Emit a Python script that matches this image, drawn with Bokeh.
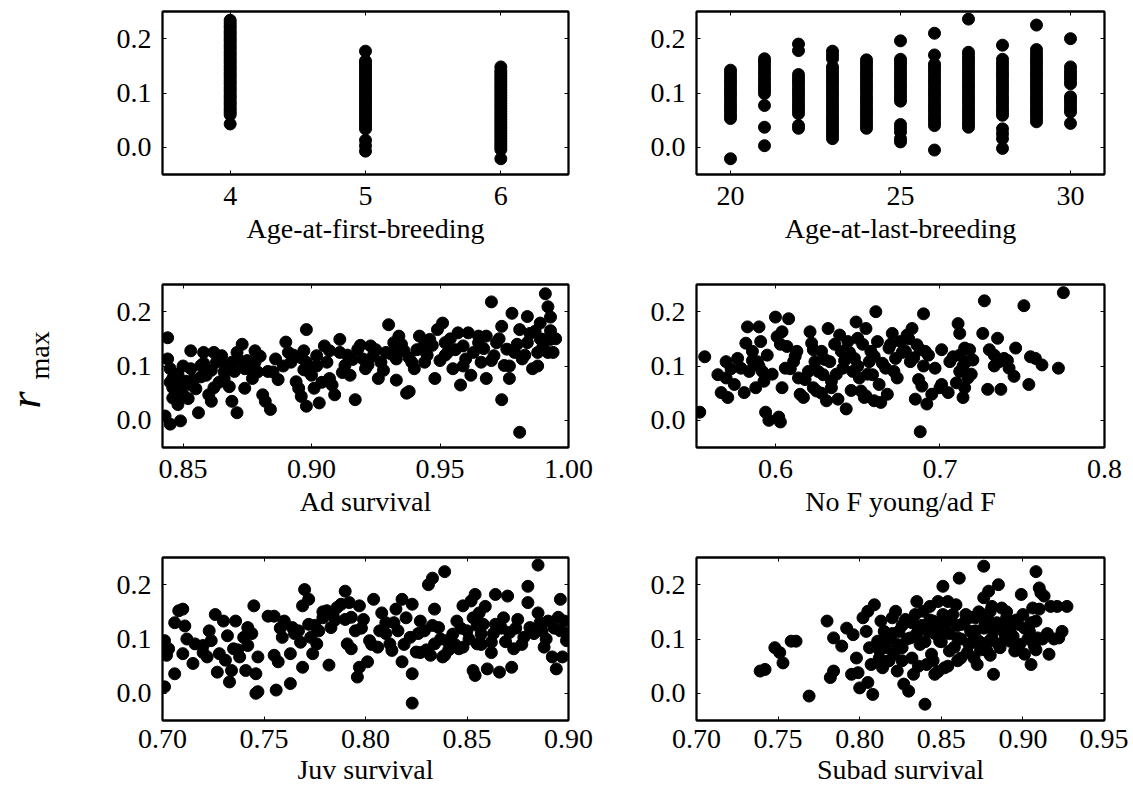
import math
from bokeh.plotting import figure
from bokeh.layouts import row, column
from bokeh.models import Range1d, FixedTicker, PrintfTickFormatter, LinearAxis, CustomJSTickFormatter
from bokeh.core.properties import value
from bokeh.embed import file_html
from bokeh.resources import INLINE

# ---------------- data ----------------
# r_max vs age-at-first-breeding (categories 4, 5, 6)
afb_cats = [4, 5, 6]
afb_y4 = [0.043, 0.060, 0.064, 0.068, 0.072, 0.077, 0.081, 0.085, 0.090, 0.094, 0.098, 0.103,
          0.107, 0.111, 0.116, 0.120, 0.124, 0.129, 0.133, 0.137, 0.142, 0.146, 0.150, 0.155,
          0.159, 0.163, 0.168, 0.172, 0.176, 0.181, 0.185, 0.189, 0.194, 0.198, 0.202, 0.207,
          0.211, 0.215, 0.220, 0.224, 0.229, 0.234]
afb_y5 = [-0.007, 0.003, 0.013, 0.034, 0.039, 0.044, 0.049, 0.054, 0.059, 0.064, 0.069, 0.074,
          0.079, 0.084, 0.089, 0.094, 0.099, 0.104, 0.109, 0.114, 0.119, 0.124, 0.129, 0.134,
          0.139, 0.144, 0.149, 0.154, 0.159, 0.177]
afb_y6 = [-0.021, -0.004, 0.001, 0.006, 0.011, 0.016, 0.021, 0.026, 0.031, 0.036, 0.041, 0.046,
          0.051, 0.056, 0.061, 0.066, 0.071, 0.076, 0.081, 0.086, 0.091, 0.096, 0.101, 0.106,
          0.111, 0.116, 0.121, 0.126, 0.131, 0.136, 0.141, 0.148]

# r_max vs age-at-last-breeding (categories 20..30)
alb_cats = [20, 21, 22, 23, 24, 25, 26, 27, 28, 29, 30]
alb_vals = [
    [-0.021, 0.053, 0.058, 0.064, 0.070, 0.076, 0.082, 0.088, 0.094, 0.100, 0.106, 0.112, 0.118, 0.124, 0.130, 0.136, 0.142],
    [0.003, 0.037, 0.077, 0.099, 0.105, 0.111, 0.117, 0.124, 0.130, 0.137, 0.143, 0.150, 0.157, 0.163],
    [0.035, 0.040, 0.062, 0.068, 0.074, 0.080, 0.086, 0.092, 0.098, 0.104, 0.110, 0.116, 0.122, 0.128, 0.134, 0.178, 0.190],
    [0.016, 0.022, 0.028, 0.034, 0.040, 0.046, 0.052, 0.058, 0.064, 0.070, 0.076, 0.082, 0.088, 0.094, 0.100, 0.106,
     0.112, 0.118, 0.124, 0.130, 0.136, 0.142, 0.148, 0.163, 0.170, 0.177],
    [0.035, 0.041, 0.047, 0.053, 0.059, 0.065, 0.071, 0.077, 0.083, 0.089, 0.095, 0.101, 0.107, 0.113, 0.119, 0.125,
     0.131, 0.137, 0.143, 0.149, 0.155, 0.161],
    [0.010, 0.016, 0.028, 0.035, 0.042, 0.085, 0.091, 0.097, 0.103, 0.109, 0.115, 0.121, 0.127, 0.133, 0.139, 0.145,
     0.151, 0.157, 0.162, 0.196],
    [-0.005, 0.040, 0.046, 0.052, 0.058, 0.064, 0.070, 0.076, 0.082, 0.088, 0.094, 0.100, 0.106, 0.112, 0.118, 0.124,
     0.130, 0.136, 0.142, 0.148, 0.153, 0.170, 0.210],
    [0.037, 0.043, 0.049, 0.055, 0.061, 0.067, 0.073, 0.079, 0.085, 0.091, 0.097, 0.103, 0.109, 0.115, 0.121, 0.127,
     0.133, 0.139, 0.145, 0.151, 0.157, 0.163, 0.169, 0.175, 0.236],
    [-0.002, 0.016, 0.025, 0.034, 0.059, 0.065, 0.071, 0.077, 0.083, 0.089, 0.095, 0.101, 0.107, 0.113, 0.119, 0.125,
     0.131, 0.137, 0.143, 0.149, 0.155, 0.162, 0.188],
    [0.047, 0.053, 0.059, 0.065, 0.071, 0.077, 0.083, 0.089, 0.095, 0.101, 0.107, 0.113, 0.119, 0.125, 0.131, 0.137,
     0.143, 0.149, 0.155, 0.161, 0.167, 0.173, 0.180, 0.225],
    [0.044, 0.065, 0.071, 0.077, 0.083, 0.089, 0.093, 0.117, 0.123, 0.129, 0.135, 0.141, 0.148, 0.200],
]

# r_max vs adult survival
ad_x = [0.844, 0.844, 0.843, 0.845, 0.849, 0.845, 0.846, 0.847, 0.849, 0.846, 0.848, 0.850, 0.853, 0.853, 0.853,
        0.856, 0.857, 0.858, 0.859, 0.860, 0.861, 0.862, 0.863, 0.865, 0.866, 0.866, 0.869, 0.871, 0.869, 0.871,
        0.873, 0.874, 0.874, 0.877, 0.878, 0.878, 0.879, 0.881, 0.882, 0.884, 0.886, 0.885, 0.890, 0.892, 0.894,
        0.895, 0.896, 0.898, 0.897, 0.898, 0.899, 0.898, 0.900, 0.901, 0.903, 0.902, 0.905, 0.906, 0.907, 0.908,
        0.909, 0.911, 0.911, 0.913, 0.915, 0.917, 0.918, 0.920, 0.921, 0.923, 0.924, 0.926, 0.927, 0.930, 0.929,
        0.932, 0.933, 0.933, 0.934, 0.936, 0.937, 0.938, 0.939, 0.940, 0.942, 0.943, 0.944, 0.946, 0.948, 0.949,
        0.951, 0.952, 0.953, 0.955, 0.957, 0.958, 0.959, 0.960, 0.961, 0.962, 0.965, 0.966, 0.968, 0.968, 0.970,
        0.971, 0.972, 0.974, 0.974, 0.975, 0.976, 0.977, 0.978, 0.979, 0.981, 0.981, 0.982, 0.984, 0.984, 0.986,
        0.987, 0.988, 0.989, 0.990, 0.991, 0.992, 0.992, 0.993,
        0.846, 0.848, 0.851, 0.852, 0.855, 0.857, 0.861, 0.864, 0.867, 0.868, 0.872, 0.876, 0.880, 0.883, 0.887,
        0.893, 0.897, 0.902, 0.904, 0.907, 0.912, 0.916, 0.919, 0.922, 0.925, 0.928, 0.931, 0.935, 0.938, 0.941,
        0.945, 0.947, 0.950, 0.954, 0.956, 0.959, 0.963, 0.965, 0.967, 0.970, 0.973, 0.977, 0.980, 0.983, 0.985,
        0.988, 0.990, 0.993, 0.994, 0.995, 0.993, 0.989,
        0.845, 0.847, 0.850, 0.854, 0.858, 0.862, 0.870, 0.875, 0.889, 0.891, 0.896, 0.914, 0.934, 0.944, 0.952]
ad_y = [0.152, 0.113, 0.008, -0.007, -0.001, 0.095, 0.077, 0.065, 0.056, 0.041, 0.029, 0.047, 0.065, 0.128, 0.095,
        0.014, 0.101, 0.125, 0.083, 0.047, 0.035, 0.125, 0.107, 0.119, 0.089, 0.077, 0.035, 0.014, 0.107, 0.125,
        0.140, 0.059, 0.095, 0.077, 0.128, 0.107, 0.089, 0.047, 0.035, 0.020, 0.113, 0.089, 0.144, 0.107, 0.071,
        0.059, 0.044, 0.167, 0.128, 0.107, 0.089, 0.026, 0.083, 0.059, 0.032, 0.119, 0.137, 0.107, 0.077, 0.065,
        0.047, 0.149, 0.125, 0.101, 0.083, 0.038, 0.131, 0.113, 0.095, 0.137, 0.119, 0.077, 0.107, 0.176, 0.125,
        0.143, 0.113, 0.074, 0.155, 0.128, 0.050, 0.053, 0.107, 0.095, 0.155, 0.131, 0.107, 0.149, 0.077, 0.167,
        0.179, 0.143, 0.125, 0.095, 0.161, 0.065, 0.137, 0.113, 0.161, 0.083, 0.143, 0.107, 0.155, 0.077, 0.218,
        0.119, 0.143, 0.038, 0.173, 0.101, 0.131, 0.077, 0.197, 0.125, -0.022, 0.167, 0.113, 0.191, 0.143, 0.095,
        0.164, 0.125, 0.179, 0.149, 0.233, 0.209, 0.125, 0.149,
        0.060, 0.085, 0.072, 0.040, 0.058, 0.080, 0.092, 0.070, 0.100, 0.062, 0.110, 0.095, 0.118, 0.090, 0.075,
        0.120, 0.093, 0.100, 0.070, 0.128, 0.088, 0.112, 0.138, 0.102, 0.130, 0.092, 0.122, 0.140, 0.115, 0.130,
        0.120, 0.138, 0.110, 0.150, 0.130, 0.100, 0.125, 0.155, 0.132, 0.110, 0.150, 0.100, 0.140, 0.120, 0.160,
        0.100, 0.135, 0.165, 0.125, 0.150, 0.190, 0.150,
        0.070, 0.050, 0.100, 0.075, 0.105, 0.060, 0.090, 0.110, 0.100, 0.125, 0.115, 0.120, 0.130, 0.140, 0.120]

# r_max vs number of female young per adult female
fy_x = [0.554, 0.557, 0.565, 0.567, 0.570, 0.570, 0.571, 0.575, 0.577, 0.579, 0.581, 0.582, 0.583, 0.584, 0.586,
        0.588, 0.589, 0.590, 0.591, 0.592, 0.593, 0.594, 0.596, 0.600, 0.601, 0.602, 0.603, 0.604, 0.604, 0.606,
        0.607, 0.608, 0.611, 0.613, 0.614, 0.615, 0.617, 0.620, 0.621, 0.622, 0.623, 0.624, 0.625, 0.628, 0.629,
        0.631, 0.632, 0.633, 0.634, 0.638, 0.639, 0.640, 0.641, 0.643, 0.644, 0.647, 0.648, 0.649, 0.650, 0.651,
        0.652, 0.654, 0.655, 0.657, 0.658, 0.659, 0.660, 0.661, 0.662, 0.663, 0.664, 0.667, 0.668, 0.669, 0.671,
        0.673, 0.674, 0.676, 0.679, 0.680, 0.682, 0.683, 0.685, 0.686, 0.687, 0.688, 0.689, 0.690, 0.691, 0.692,
        0.695, 0.697, 0.701, 0.701, 0.705, 0.706, 0.708, 0.710, 0.711, 0.712, 0.712, 0.714, 0.715, 0.716, 0.717,
        0.718, 0.720, 0.726, 0.727, 0.729, 0.730, 0.733, 0.735, 0.736, 0.737, 0.739, 0.742, 0.745, 0.746, 0.751,
        0.754, 0.755, 0.758, 0.762, 0.772, 0.775,
        0.590, 0.595, 0.598, 0.603, 0.609, 0.612, 0.618, 0.623, 0.626, 0.630, 0.636, 0.637, 0.642, 0.645, 0.650,
        0.653, 0.656, 0.660, 0.665, 0.670, 0.672, 0.677, 0.681, 0.684, 0.688, 0.690, 0.693, 0.712, 0.714, 0.719,
        0.733, 0.741, 0.573, 0.586, 0.634, 0.646, 0.655, 0.628, 0.700, 0.715]
fy_y = [0.015, 0.117, 0.084, 0.051, 0.108, 0.078, 0.042, 0.066, 0.114, 0.096, 0.051, 0.142, 0.172, 0.090, 0.127,
        0.060, 0.108, 0.172, 0.145, 0.090, 0.072, 0.015, 0.000, 0.190, 0.154, 0.006, -0.003, 0.163, 0.060, 0.096,
        0.136, 0.187, 0.108, 0.127, 0.078, 0.048, 0.042, 0.090, 0.163, 0.142, 0.060, 0.108, 0.054, 0.127, 0.084,
        0.036, 0.169, 0.108, 0.072, 0.039, 0.157, 0.127, 0.096, 0.021, 0.145, 0.090, 0.114, 0.181, 0.151, 0.078,
        0.054, 0.042, 0.169, 0.108, 0.127, 0.084, 0.036, 0.200, 0.145, 0.066, 0.033, 0.096, 0.048, 0.133, 0.160,
        0.114, 0.078, 0.145, 0.127, 0.157, 0.108, 0.169, 0.039, 0.139, 0.075, -0.021, 0.063, 0.196, 0.127, 0.030,
        0.048, 0.096, 0.130, 0.066, 0.051, 0.108, 0.117, 0.069, 0.178, 0.160, 0.090, 0.042, 0.133, 0.108, 0.078,
        0.130, 0.111, 0.160, 0.220, 0.057, 0.130, 0.120, 0.151, 0.108, 0.057, 0.114, 0.096, 0.081, 0.133, 0.211,
        0.066, 0.117, 0.114, 0.102, 0.096, 0.235,
        0.100, 0.120, 0.085, 0.140, 0.095, 0.118, 0.075, 0.130, 0.090, 0.112, 0.140, 0.085, 0.110, 0.125, 0.100,
        0.140, 0.085, 0.118, 0.105, 0.140, 0.090, 0.125, 0.150, 0.115, 0.130, 0.100, 0.120, 0.120, 0.100, 0.085,
        0.100, 0.110, 0.095, 0.110, 0.060, 0.055, 0.045, 0.050, 0.060, 0.060]

# r_max vs juvenile survival
juv_x = [0.701, 0.701, 0.702, 0.703, 0.706, 0.706, 0.708, 0.710, 0.710, 0.711, 0.712, 0.715, 0.716, 0.720, 0.722,
         0.723, 0.724, 0.726, 0.727, 0.728, 0.730, 0.731, 0.732, 0.733, 0.734, 0.735, 0.736, 0.738, 0.740, 0.741,
         0.742, 0.742, 0.745, 0.746, 0.747, 0.747, 0.746, 0.752, 0.755, 0.755, 0.756, 0.757, 0.759, 0.760, 0.763,
         0.763, 0.764, 0.767, 0.768, 0.769, 0.769, 0.770, 0.772, 0.772, 0.773, 0.774, 0.776, 0.777, 0.779, 0.781,
         0.782, 0.783, 0.784, 0.786, 0.788, 0.790, 0.790, 0.791, 0.792, 0.793, 0.795, 0.796, 0.797, 0.797, 0.799,
         0.801, 0.802, 0.804, 0.806, 0.807, 0.808, 0.810, 0.812, 0.813, 0.815, 0.816, 0.818, 0.818, 0.820, 0.822,
         0.823, 0.823, 0.823, 0.825, 0.827, 0.829, 0.831, 0.832, 0.833, 0.834, 0.834, 0.836, 0.838, 0.839, 0.840,
         0.843, 0.845, 0.846, 0.848, 0.850, 0.852, 0.853, 0.853, 0.854, 0.854, 0.855, 0.856, 0.857, 0.858, 0.860,
         0.862, 0.864, 0.864, 0.866, 0.868, 0.870, 0.871, 0.872, 0.873, 0.875, 0.878, 0.880, 0.880, 0.881, 0.885,
         0.885, 0.887, 0.888, 0.890, 0.892, 0.894, 0.896, 0.896, 0.897, 0.898, 0.899,
         0.720, 0.737, 0.744, 0.758, 0.765, 0.775, 0.779, 0.785, 0.793, 0.798, 0.803, 0.810, 0.814, 0.819, 0.826,
         0.830, 0.833, 0.837, 0.841, 0.844, 0.847, 0.851, 0.855, 0.857, 0.859, 0.863, 0.867, 0.869, 0.874, 0.877,
         0.883, 0.886, 0.889, 0.893, 0.895, 0.899, 0.827, 0.839, 0.862, 0.848]
juv_y = [0.097, 0.012, 0.070, 0.082, 0.036, 0.130, 0.152, 0.155, 0.073, 0.124, 0.100, 0.055, 0.091, 0.088, 0.067,
         0.115, 0.097, 0.145, 0.039, 0.073, 0.133, 0.061, 0.106, 0.021, 0.042, 0.082, 0.133, 0.067, 0.103, 0.042,
         0.121, 0.088, 0.161, 0.000, 0.067, 0.003, 0.036, 0.142, 0.142, 0.070, 0.006, 0.058, 0.103, 0.133, 0.018,
         0.073, 0.121, 0.115, 0.094, 0.161, 0.048, 0.191, 0.173, 0.127, 0.103, 0.073, 0.091, 0.115, 0.139, 0.152,
         0.052, 0.121, 0.145, 0.158, 0.164, 0.188, 0.136, 0.091, 0.167, 0.082, 0.115, 0.030, 0.161, 0.048, 0.136,
         0.058, 0.097, 0.173, 0.085, 0.115, 0.148, 0.130, 0.091, 0.079, 0.155, 0.115, 0.058, 0.173, 0.139, 0.103,
         -0.018, 0.036, 0.164, 0.076, 0.133, 0.115, 0.200, 0.070, 0.212, 0.155, 0.091, 0.121, 0.067, 0.224, 0.097,
         0.109, 0.133, 0.082, 0.161, 0.115, 0.170, 0.139, 0.042, 0.033, 0.182, 0.091, 0.148, 0.109, 0.127, 0.045,
         0.094, 0.182, 0.127, 0.039, 0.139, 0.179, 0.112, 0.048, 0.082, 0.136, 0.103, 0.197, 0.167, 0.121, 0.236,
         0.148, 0.115, 0.085, 0.133, 0.067, 0.045, 0.173, 0.115, 0.067, 0.133, 0.097,
         0.075, 0.080, 0.110, 0.120, 0.110, 0.125, 0.150, 0.135, 0.140, 0.120, 0.090, 0.110, 0.130, 0.090, 0.110,
         0.080, 0.125, 0.100, 0.080, 0.090, 0.120, 0.100, 0.125, 0.090, 0.160, 0.110, 0.120, 0.095, 0.120, 0.090,
         0.110, 0.130, 0.100, 0.120, 0.140, 0.110, 0.075, 0.070, 0.075, 0.085]

# r_max vs subadult survival
sub_x = [0.739, 0.742, 0.748, 0.751, 0.753, 0.758, 0.761, 0.769, 0.780, 0.782, 0.784, 0.784, 0.789, 0.792, 0.795,
         0.796, 0.798, 0.799, 0.800, 0.802, 0.804, 0.805, 0.805, 0.806, 0.807, 0.808, 0.809, 0.811, 0.812, 0.813,
         0.814, 0.815, 0.816, 0.817, 0.818, 0.820, 0.821, 0.822, 0.823, 0.824, 0.826, 0.827, 0.828, 0.830, 0.831,
         0.832, 0.833, 0.834, 0.835, 0.836, 0.837, 0.839, 0.840, 0.841, 0.842, 0.843, 0.844, 0.845, 0.846, 0.848,
         0.849, 0.851, 0.851, 0.852, 0.853, 0.854, 0.855, 0.856, 0.859, 0.860, 0.861, 0.862, 0.863, 0.865, 0.867,
         0.868, 0.870, 0.871, 0.872, 0.873, 0.876, 0.876, 0.877, 0.878, 0.879, 0.880, 0.881, 0.882, 0.883, 0.885,
         0.886, 0.887, 0.888, 0.890, 0.892, 0.895, 0.897, 0.899, 0.900, 0.901, 0.904, 0.905, 0.906, 0.907, 0.908,
         0.908, 0.909, 0.910, 0.911, 0.913, 0.916, 0.917, 0.921, 0.922, 0.924, 0.927,
         0.820, 0.823, 0.826, 0.829, 0.832, 0.835, 0.838, 0.840, 0.843, 0.846, 0.848, 0.850, 0.852, 0.855, 0.857,
         0.858, 0.860, 0.862, 0.864, 0.866, 0.868, 0.869, 0.871, 0.873, 0.874, 0.876, 0.878, 0.879, 0.881, 0.882,
         0.884, 0.885, 0.887, 0.889, 0.890, 0.892, 0.894, 0.896, 0.898, 0.901, 0.903, 0.905, 0.908, 0.910, 0.912,
         0.915, 0.919, 0.812, 0.816, 0.818, 0.826, 0.836, 0.845, 0.854, 0.848, 0.860, 0.880]
sub_y = [0.041, 0.044, 0.084, 0.075, 0.056, 0.096, 0.096, -0.005, 0.133, 0.029, 0.102, 0.041, 0.087, 0.120, 0.035,
         0.108, 0.065, 0.038, 0.010, 0.139, 0.114, 0.151, 0.020, 0.084, 0.053, -0.002, 0.163, 0.096, 0.065, 0.133,
         0.047, 0.114, 0.084, 0.059, 0.102, 0.139, 0.072, 0.151, 0.041, 0.114, 0.084, 0.017, 0.136, 0.004, 0.102,
         0.065, 0.035, 0.145, 0.169, 0.120, 0.090, 0.151, -0.020, 0.053, 0.114, 0.160, 0.072, 0.133, 0.035, 0.169,
         0.096, 0.197, 0.145, 0.047, 0.114, 0.169, 0.078, 0.133, 0.163, 0.102, 0.212, 0.065, 0.127, 0.145, 0.090,
         0.114, 0.065, 0.139, 0.053, 0.096, 0.176, 0.234, 0.127, 0.078, 0.188, 0.151, 0.102, 0.035, 0.127, 0.200,
         0.084, 0.157, 0.114, 0.139, 0.096, 0.078, 0.127, 0.182, 0.145, 0.072, 0.114, 0.053, 0.157, 0.087, 0.224,
         0.133, 0.102, 0.194, 0.185, 0.179, 0.072, 0.160, 0.160, 0.102, 0.114, 0.160,
         0.110, 0.090, 0.125, 0.100, 0.130, 0.110, 0.125, 0.095, 0.135, 0.110, 0.125, 0.095, 0.130, 0.110, 0.145,
         0.085, 0.125, 0.100, 0.130, 0.075, 0.140, 0.095, 0.115, 0.150, 0.080, 0.120, 0.140, 0.095, 0.160, 0.115,
         0.130, 0.090, 0.125, 0.100, 0.150, 0.120, 0.105, 0.135, 0.090, 0.120, 0.100, 0.130, 0.080, 0.155, 0.100,
         0.110, 0.100, 0.080, 0.100, 0.060, 0.060, 0.050, 0.060, 0.050, 0.040, 0.060, 0.070]

y_ticks = [0.0, 0.1, 0.2]
y_lim = (-0.05, 0.25)

# ---------------- styling helpers ----------------
FONT = "Liberation Serif"
FS = "28px"
FRAME_H = 163


def make_panel(xs, ys, xlim, xticks, xfmt, title, mbl, fw, mbr, mbt, mbb, s1, s2):
    p = figure(width=mbl + fw + mbr, height=mbt + FRAME_H + mbb,
               x_range=Range1d(*xlim), y_range=Range1d(*y_lim),
               output_backend="svg", toolbar_location=None,
               min_border_left=mbl, min_border_right=mbr,
               min_border_top=mbt, min_border_bottom=mbb)
    p.scatter(xs, ys, size=12, color="black", line_color="black")
    p.xgrid.visible = False
    p.ygrid.visible = False
    p.outline_line_color = "black"
    p.outline_line_width = 1.8
    p.border_fill_color = "white"
    p.background_fill_color = "white"

    xa = p.xaxis[0]
    ya = p.yaxis[0]
    xa.ticker = FixedTicker(ticks=xticks)
    xa.formatter = PrintfTickFormatter(format=xfmt)
    ya.ticker = FixedTicker(ticks=y_ticks)
    ya.formatter = PrintfTickFormatter(format="%.1f")
    xa.axis_label = title
    xa.axis_label_text_font = FONT
    xa.axis_label_text_font_size = FS
    xa.axis_label_text_font_style = "normal"
    xa.axis_label_text_color = "black"
    xa.axis_label_standoff = s2
    xa.major_label_standoff = s1
    ya.major_label_standoff = 11
    for ax in (xa, ya):
        ax.major_label_text_font = FONT
        ax.major_label_text_font_size = FS
        ax.major_label_text_color = "black"
        ax.axis_line_color = "black"
        ax.axis_line_width = 1.8
        ax.major_tick_in = 4
        ax.major_tick_out = 0
        ax.major_tick_line_color = "black"
        ax.major_tick_line_width = 1
        ax.minor_tick_line_color = None

    # tick marks on top and right edges (box style), without labels
    top = LinearAxis(ticker=FixedTicker(ticks=xticks),
                     formatter=CustomJSTickFormatter(code="return ''"))
    right = LinearAxis(ticker=FixedTicker(ticks=y_ticks),
                       formatter=CustomJSTickFormatter(code="return ''"))
    for ax in (top, right):
        ax.major_label_text_font_size = "0px"
        ax.major_label_standoff = 0
        ax.major_tick_in = 4
        ax.major_tick_out = 0
        ax.major_tick_line_color = "black"
        ax.minor_tick_line_color = None
        ax.axis_line_color = "black"
        ax.axis_line_width = 1.8
    p.add_layout(top, "above")
    p.add_layout(right, "right")
    return p


# geometry: left column / right column
L_MBL, L_FW, L_MBR = 94, 406, 40
R_MBL, R_FW, R_MBR = 88, 408, 24
ROWS = [(11, 85, 12, 5), (25, 85, 12, 5), (25, 74, 9, 3)]

afb_x = [afb_cats[0]] * len(afb_y4) + [afb_cats[1]] * len(afb_y5) + [afb_cats[2]] * len(afb_y6)
afb_y = afb_y4 + afb_y5 + afb_y6
alb_x = []
alb_y = []
for c, vals in zip(alb_cats, alb_vals):
    alb_x += [c] * len(vals)
    alb_y += vals

tl = make_panel(afb_x, afb_y, (3.5, 6.5), [4, 5, 6], "%d", "Age-at-first-breeding",
                L_MBL, L_FW, L_MBR, *ROWS[0])
tr = make_panel(alb_x, alb_y, (19, 31), [20, 25, 30], "%d", "Age-at-last-breeding",
                R_MBL, R_FW, R_MBR, *ROWS[0])
ml = make_panel(ad_x, ad_y, (0.842, 1.0), [0.85, 0.90, 0.95, 1.00], "%.2f", "Ad survival",
                L_MBL, L_FW, L_MBR, *ROWS[1])
mr = make_panel(fy_x, fy_y, (0.552, 0.8), [0.6, 0.7, 0.8], "%.1f", "No F young/ad F",
                R_MBL, R_FW, R_MBR, *ROWS[1])
bl = make_panel(juv_x, juv_y, (0.70, 0.90), [0.70, 0.75, 0.80, 0.85, 0.90], "%.2f", "Juv survival",
                L_MBL, L_FW, L_MBR, *ROWS[2])
br = make_panel(sub_x, sub_y, (0.70, 0.95), [0.70, 0.75, 0.80, 0.85, 0.90, 0.95], "%.2f", "Subad survival",
                R_MBL, R_FW, R_MBR, *ROWS[2])

total_h = sum(r[0] + FRAME_H + r[1] for r in ROWS)
LAB_W = 68
lab = figure(width=LAB_W, height=total_h, x_range=Range1d(0, LAB_W), y_range=Range1d(total_h, 0),
             output_backend="svg", toolbar_location=None, x_axis_type=None, y_axis_type=None,
             min_border=0)
lab.xgrid.visible = False
lab.ygrid.visible = False
lab.outline_line_color = None
lab.text(x=[25], y=[408], text=["r"], angle=math.pi / 2, text_align="left",
         text_baseline="alphabetic", text_font=value(FONT), text_font_style="italic",
         text_font_size="44px", text_color="black")
lab.text(x=[39], y=[379], text=["max"], angle=math.pi / 2, text_align="left",
         text_baseline="alphabetic", text_font=value(FONT), text_font_style="normal",
         text_font_size="28px", text_color="black")

layout = row(lab, column(tl, ml, bl), column(tr, mr, br))
open("out.html", "w").write(file_html(layout, INLINE))
